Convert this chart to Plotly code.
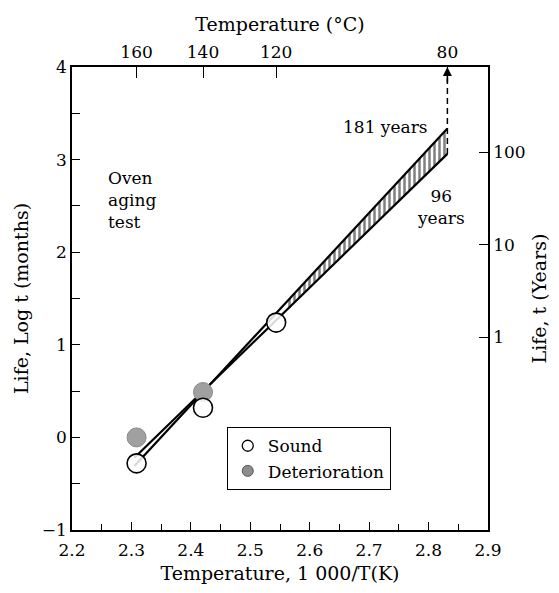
import numpy as np
import plotly.graph_objects as go

# ---------------- data ----------------
temps_c_top = [160, 140, 120, 80]                       # top axis labels (deg C)
x_top = [1000.0 / (t + 273.15) for t in temps_c_top]   # 1000/T(K)

sound_x = [1000.0 / (160 + 273.15), 1000.0 / (140 + 273.15), 1000.0 / (120 + 273.15)]
sound_y = [-0.28, 0.32, 1.24]
det_x = [1000.0 / (160 + 273.15), 1000.0 / (140 + 273.15)]
det_y = [0.00, 0.49]

x80 = 1000.0 / (80 + 273.15)
years_hi = 181
years_lo = 96
line_start_x = 2.305
line_hi_y = [-0.31, np.log10(years_hi * 12)]   # line reaching 181 years
line_lo_y = [-0.22, np.log10(years_lo * 12)]   # line reaching 96 years
hatch_start_x = 2.56

left_tickvals = [-1, -0.5, 0, 0.5, 1, 1.5, 2, 2.5, 3, 3.5, 4]
left_ticktext = ["\u22121", "", "0", "", "1", "", "2", "", "3", "", "4"]
bottom_tickvals = [2.2, 2.3, 2.4, 2.5, 2.6, 2.7, 2.8, 2.9]
bottom_ticktext = ["2.2", "2.3", "2.4", "2.5", "2.6", "2.7", "2.8", "2.9"]
right_years = [1, 10, 100]
right_tickvals = [np.log10(12 * y) for y in right_years]
right_ticktext = ["1", "10", "100"]

FONT = "DejaVu Serif"
TITLE_SIZE = 19


def line_y(xs, x0, x1, y):
    xs = np.asarray(xs, dtype=float)
    return y[0] + (y[1] - y[0]) * (xs - x0) / (x1 - x0)


fig = go.Figure()

# hatched band between the two lines
hx = [hatch_start_x, x80, x80, hatch_start_x, hatch_start_x]
hy_hi = line_y([hatch_start_x, x80], line_start_x, x80, line_hi_y)
hy_lo = line_y([x80, hatch_start_x], line_start_x, x80, line_lo_y)
hy = [hy_hi[0], hy_hi[1], hy_lo[0], hy_lo[1], hy_hi[0]]
fig.add_trace(go.Scatter(
    x=hx, y=hy, mode="lines", fill="toself",
    line=dict(color="black", width=0),
    fillcolor="white",
    fillpattern=dict(shape="|", size=5, solidity=0.5, fgcolor="black", bgcolor="white"),
    showlegend=False, hoverinfo="skip"))

# the two life lines
for ly in (line_hi_y, line_lo_y):
    fig.add_trace(go.Scatter(
        x=[line_start_x, x80], y=ly, mode="lines",
        line=dict(color="black", width=2.2), showlegend=False, hoverinfo="skip"))

# dashed extrapolation at 80 C
fig.add_trace(go.Scatter(
    x=[x80, x80], y=[line_lo_y[1], 3.93], mode="lines",
    line=dict(color="black", width=1.5, dash="6px,4px"),
    showlegend=False, hoverinfo="skip"))

# data points
fig.add_trace(go.Scatter(
    x=det_x, y=det_y, mode="markers",
    marker=dict(size=19, color="#a0a0a0", line=dict(color="#8a8a8a", width=1)),
    showlegend=False))
fig.add_trace(go.Scatter(
    x=sound_x, y=sound_y, mode="markers",
    marker=dict(size=19, color="rgba(255,255,255,0.85)", line=dict(color="black", width=1.6)),
    showlegend=False))

# legend entries (small symbols)
fig.add_trace(go.Scatter(
    x=[None], y=[None], mode="markers", name="Sound",
    marker=dict(size=11, color="white", line=dict(color="black", width=1.3))))
fig.add_trace(go.Scatter(
    x=[None], y=[None], mode="markers", name="Deterioration",
    marker=dict(size=11, color="#8c8c8c", line=dict(color="#555555", width=1))))

# top axis dummy trace to activate xaxis2
fig.add_trace(go.Scatter(x=[None], y=[None], xaxis="x2", showlegend=False, hoverinfo="skip"))
# right axis dummy trace
fig.add_trace(go.Scatter(x=[None], y=[None], yaxis="y2", showlegend=False, hoverinfo="skip"))

annotations = [
    dict(x=x80, y=4.0, ax=x80, ay=3.82, xref="x", yref="y", axref="x", ayref="y",
         showarrow=True, arrowhead=2, arrowsize=1.2, arrowwidth=1.5, arrowcolor="black", text=""),
    dict(x=2.257, y=2.93, xref="x", yref="y", text="Oven<br>aging<br>test",
         showarrow=False, xanchor="left", yanchor="top", align="left",
         font=dict(family=FONT, size=17, color="black")),
    dict(x=2.803, y=3.35, xref="x", yref="y", text=f"{years_hi} years",
         showarrow=False, xanchor="right", yanchor="middle",
         font=dict(family=FONT, size=17, color="black")),
    dict(x=2.821, y=2.49, xref="x", yref="y", text=f"{years_lo}<br>years",
         showarrow=False, xanchor="center", yanchor="middle", align="center",
         font=dict(family=FONT, size=17, color="black")),
]

fig.update_layout(
    width=559, height=593,
    margin=dict(l=72, r=68, t=67, b=63),
    paper_bgcolor="white", plot_bgcolor="white",
    font=dict(family=FONT, size=17, color="black"),
    annotations=annotations,
    legend=dict(x=0.372, y=0.222, xanchor="left", yanchor="top",
                bordercolor="black", borderwidth=1, bgcolor="white",
                font=dict(family=FONT, size=17), itemwidth=30,
                tracegroupgap=0),
    xaxis=dict(range=[2.2, 2.9], tickvals=bottom_tickvals, ticktext=bottom_ticktext,
               ticks="inside", ticklen=8, tickcolor="black", tickwidth=1.2,
               minor=dict(dtick=0.05, tick0=2.2, ticks="inside", ticklen=6, tickcolor="black"),
               showline=True, linecolor="black", linewidth=1.5, showgrid=False, zeroline=False,
               title=dict(text="Temperature, 1 000/T(K)", standoff=8,
                          font=dict(family=FONT, size=TITLE_SIZE, color="black")),
               ticklabelstandoff=4,
               tickfont=dict(size=17)),
    xaxis2=dict(range=[2.2, 2.9], overlaying="x", side="top", anchor="y",
                tickvals=x_top, ticktext=[str(t) for t in temps_c_top],
                ticks="inside", ticklen=11, tickcolor="black", tickwidth=1.2,
                showline=True, linecolor="black", linewidth=1.5, showgrid=False, zeroline=False,
                title=dict(text="Temperature (°C)", standoff=6,
                           font=dict(family=FONT, size=TITLE_SIZE, color="black")),
                tickfont=dict(size=17)),
    yaxis=dict(range=[-1, 4], tickvals=left_tickvals, ticktext=left_ticktext,
               ticks="inside", ticklen=8, tickcolor="black", tickwidth=1.2,
               showline=True, linecolor="black", linewidth=1.5, showgrid=False, zeroline=False,
               title=dict(text="Life, Log t (months)", standoff=8,
                          font=dict(family=FONT, size=TITLE_SIZE, color="black")),
               tickfont=dict(size=17)),
    yaxis2=dict(range=[-1, 4], overlaying="y", side="right", anchor="x",
                tickvals=right_tickvals, ticktext=right_ticktext,
                ticks="inside", ticklen=9, tickcolor="black", tickwidth=1.2,
                showline=True, linecolor="black", linewidth=1.5, showgrid=False, zeroline=False,
                title=dict(text="Life, t (Years)", standoff=8,
                           font=dict(family=FONT, size=TITLE_SIZE, color="black")),
                tickfont=dict(size=17)),
)

fig.write_html("out.html")
